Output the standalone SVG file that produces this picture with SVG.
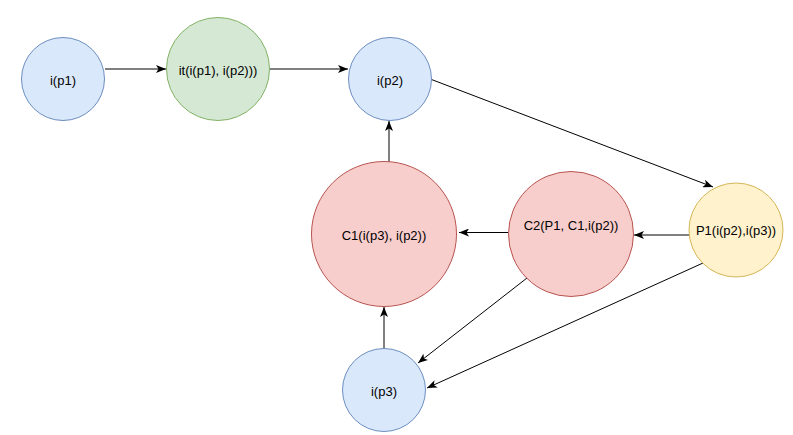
<svg xmlns="http://www.w3.org/2000/svg" width="793" height="435" viewBox="0 0 793 435">
<style>
.lbl{font-family:"Liberation Sans",Arial,sans-serif;font-size:13px;fill:#000;text-anchor:middle}
.blue{fill:#dae8fc;stroke:#6c8ebf;stroke-width:1}
.green{fill:#d5e8d4;stroke:#82b366;stroke-width:1}
.red{fill:#f8cecc;stroke:#b85450;stroke-width:1}
.yellow{fill:#fff2cc;stroke:#d6b656;stroke-width:1}
.edge{stroke:#000;stroke-width:1;fill:none;marker-end:url(#arr)}
</style>
<defs>
<marker id="arr" markerUnits="userSpaceOnUse" viewBox="0 0 10 8" refX="10" refY="4" markerWidth="10" markerHeight="8" orient="auto">
<path d="M0,0 L10,4 L0,8 L2.5,4 Z" fill="#000"/>
</marker>
</defs>
<rect width="793" height="435" fill="#fff"/>
<g id="connectors">
<line class="edge" x1="105" y1="69" x2="166" y2="69"/>
<line class="edge" x1="270" y1="69" x2="348" y2="69"/>
<line class="edge" x1="431.5" y1="79.5" x2="713" y2="187"/>
<line class="edge" x1="689" y1="235" x2="634" y2="235"/>
<line class="edge" x1="508" y1="232.5" x2="459" y2="232.5"/>
<line class="edge" x1="389" y1="162" x2="389" y2="121"/>
<line class="edge" x1="384" y1="348" x2="384" y2="307"/>
<line class="edge" x1="527" y1="278" x2="418" y2="363"/>
<line class="edge" x1="703" y1="263" x2="427" y2="388"/>
</g>
<g id="ip1"><circle class="blue" cx="63" cy="79" r="41.5"/><text class="lbl" x="63" y="84.5">i(p1)</text></g>
<g id="it"><circle class="green" cx="218" cy="69" r="51.5"/><text class="lbl" x="218" y="74.5">it(i(p1), i(p2)))</text></g>
<g id="ip2"><circle class="blue" cx="390" cy="79" r="41.5"/><text class="lbl" x="390" y="84.5">i(p2)</text></g>
<g id="c1"><circle class="red" cx="384" cy="234" r="72.5"/><text class="lbl" x="384" y="239.5">C1(i(p3), i(p2))</text></g>
<g id="c2"><circle class="red" cx="571" cy="234" r="62.5"/><text class="lbl" x="571" y="229.5">C2(P1, C1,i(p2))</text></g>
<g id="p1"><circle class="yellow" cx="736" cy="230" r="47"/><text class="lbl" x="736" y="235">P1(i(p2),i(p3))</text></g>
<g id="ip3"><circle class="blue" cx="384" cy="390" r="41.5"/><text class="lbl" x="384" y="395.5">i(p3)</text></g>
</svg>
